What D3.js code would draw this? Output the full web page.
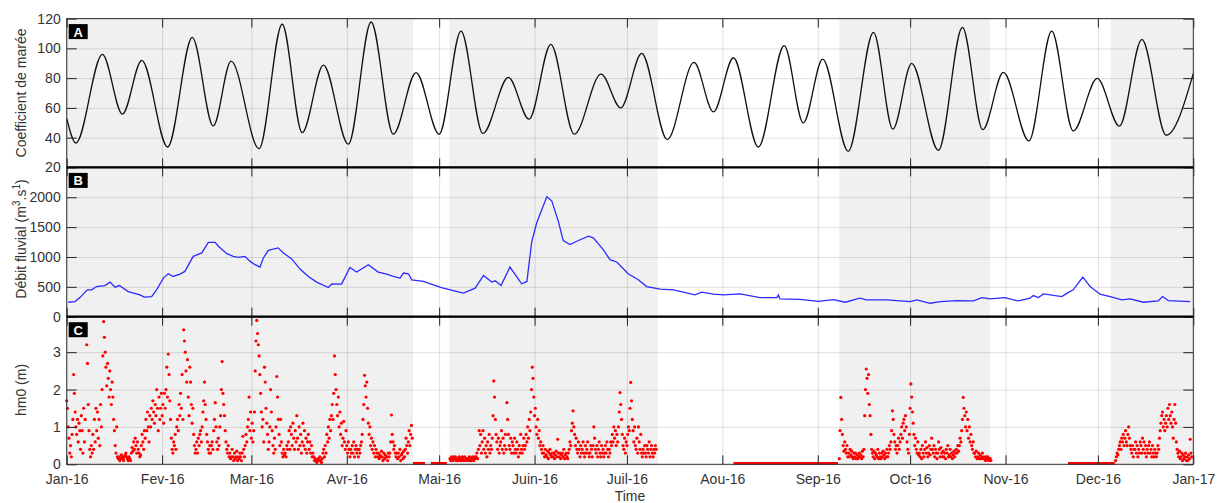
<!DOCTYPE html>
<html lang="fr">
<head>
<meta charset="UTF-8">
<title>Marée, débit fluvial et houle - 2016</title>
<script src="https://cdn.jsdelivr.net/npm/d3@7"></script>
<style>
body{margin:0;background:#fff;}
text{font-family:"Liberation Sans",Arial,Helvetica,sans-serif;}
</style>
</head>
<body>
<script>
// ---- data (days counted from 1 Jan 2016) ----
var monthLabels = ["Jan-16","Fev-16","Mar-16","Avr-16","Mai-16","Juin-16","Juil-16","Aou-16","Sep-16","Oct-16","Nov-16","Dec-16","Jan-17"];
var tideTicks = [20,40,60,80,100,120];
var flowTicks = [0,500,1000,1500,2000];
var waveTicks = [0,1,2,3];

// grey bands = periods with wave measurements
var shadedDays = [[0,112.5],[124.3,192],[251,299.9],[339.2,366]];
// periods where hm0 was logged as 0
var zeroDays = [[112.5,116.4],[118.3,123.5],[216.6,250.6],[325.3,340.5]];

// A : tidal coefficient (extrema)
var tideDays = [0,3.0,11.6,18.1,24.4,32.8,40.8,47.6,53.4,62.5,70.0,76.5,83.4,91.5,98.9,106.1,113.5,121.0,128.1,135.2,
  143.5,150.2,157.3,164.9,173.6,180.0,186.8,195.1,203.8,210.1,216.6,224.7,233.1,239.3,245.6,253.9,262.1,268.4,274.5,283.2,
  291.0,297.6,304.3,312.6,320.0,327.0,334.8,342.0,349.3,357.2,366];
var tideCoef = [53,36.4,96,55.8,91.9,33.7,107.4,47.9,91.4,32.6,116.2,43.4,88.8,35.6,117.7,42.3,83.7,42.3,111.6,42.8,
  80.5,52.4,102.7,42.3,82.7,60,96.6,38.7,90.6,57.3,93.7,33.7,101.8,49.9,92.8,30.8,110.8,45.7,89.9,31.5,
  114.1,45.4,83.8,37.8,111.6,44.5,79.8,47.7,106.1,41.6,83];

// B : river discharge m3/s
var flowDays = [0.5,2.7,4.3,6.7,8.1,9.7,12.4,14.1,15.7,17.1,20.0,23.8,25.2,27.6,29.2,31.4,33.0,34.6,36.8,38.4,
  41.1,43.9,46.0,48.2,49.3,52.0,54.1,55.8,57.9,59.6,61.2,62.8,63.9,65.5,68.7,70.4,73.1,75.8,78.5,81.2,
  85.0,86.1,89.3,92.0,94.2,98.0,101.2,104.0,106.1,108.3,109.4,111.0,112.1,115.9,119.1,121.8,125.6,128.9,132.7,135.4,
  138.1,139.2,141.1,144.0,147.8,149.5,151.1,152.7,156.0,157.6,159.7,161.3,163.5,165.7,169.5,171.1,174.3,176.5,178.7,182.5,
  185.7,188.4,192.8,197.1,200.3,204.1,206.3,210.1,213.3,218.8,225.2,230.7,231.2,231.7,238.2,244.2,249.1,252.9,257.7,259.9,
  266.4,274.0,276.2,280.5,283.8,289.2,294.6,297.3,300.0,304.8,309.2,313.0,314.0,315.7,317.3,323.3,325.0,327.0,330.1,332.5,
  335.7,339.0,342.8,345.5,349.8,354.6,356.0,357.9,365.0];
var flowRate = [242,253,320,450,450,505,522,579,495,522,421,365,327,337,450,647,719,674,714,758,
  1010,1068,1246,1246,1179,1056,1010,994,1010,926,871,832,983,1111,1152,1068,967,798,674,579,
  488,551,546,825,748,871,748,714,674,647,731,719,618,590,534,488,438,394,478,690,
  579,601,522,832,551,590,1263,1573,2011,1937,1600,1275,1207,1263,1347,1320,1123,955,916,714,
  618,505,461,450,411,365,411,377,365,382,320,320,365,298,290,258,286,242,310,281,
  281,253,281,225,253,270,264,320,298,320,264,310,354,320,382,337,394,450,663,505,
  377,337,281,298,242,264,337,270,253];

// C : significant wave height hm0 (m), one reading every 6 h
var hm0Step = 0.25;
var hm0Start = [0,124.5,251,340.75];
var hm0JanApr = [
  1.7,1.5,1.0,0.7, 0.3,0.5,0.2,0.8, 1.2,2.4,1.9,1.4, 1.0,0.8,1.2,0.6, 1.1,0.9,0.4,1.3, 0.9,0.3,1.5,0.6, 1.2,3.65,3.2,2.7, 1.6,0.9,0.4,0.2,
  0.5,0.3,0.8,0.4, 1.2,0.6,1.5,0.9, 1.4,0.7,1.2,0.5, 1.6,1.0,2.0,2.9, 3.82,3.4,3.0,2.6, 2.1,2.7,2.3,1.8, 2.5,2.0,1.6,2.2, 1.8,1.2,0.9,0.5,
  0.3,1.0,0.2,0.15, 0.2,0.1,0.15,0.25, 0.2,0.15,0.1,0.2, 0.25,0.3,0.2,0.15, 0.1,0.2,0.15,0.1, 0.3,0.45,0.35,0.6, 0.4,0.7,0.5,0.3, 0.6,0.4,0.3,0.2,
  0.25,0.5,0.8,0.6, 0.4,0.9,0.7,1.2, 0.9,1.4,1.0,0.6, 1.3,1.0,1.5,1.2, 1.7,1.4,1.1,1.6, 1.3,2.0,1.5,0.9, 1.8,1.2,1.5,1.9, 1.3,1.6,1.1,1.9,
  1.5,2.0,2.6,1.8, 2.95,2.4,1.7,1.2, 0.7,0.4,0.3,0.6, 0.5,0.8,0.4,1.0, 1.2,0.9,1.6,1.3, 1.9,1.5,2.4,1.2, 3.6,3.3,3.0,2.5, 2.2,2.8,1.8,1.3,
  2.6,2.2,1.6,1.1, 1.5,0.8,0.5,0.3, 0.4,0.6,0.3,0.7, 0.5,0.8,0.9,0.6, 1.0,1.4,1.7,2.2, 1.6,1.2,0.8,0.6, 0.4,0.3,0.5,0.3, 0.5,0.6,0.4,0.9,
  1.2,1.65,1.0,0.6, 0.4,0.7,0.5,1.0, 1.3,2.0,2.75,1.9, 1.6,1.3,0.9,0.6, 0.4,0.3,0.5,0.2, 0.3,0.15,0.2,0.4, 0.2,0.1,0.3,0.15, 0.2,0.35,0.1,0.2,
  0.15,0.3,0.2,0.1, 0.3,0.75,0.4,0.2, 0.5,0.8,0.6,1.0, 1.2,1.8,0.9,1.4, 0.7,1.1,0.6,0.9, 1.4,2.5,3.3,3.85, 3.5,3.2,2.9,2.4, 1.9,1.4,1.0,1.2,
  0.6,2.6,2.2,1.5, 1.1,0.8,0.4,0.6, 1.0,2.0,1.4,0.9, 0.5,0.3,0.7,0.4, 1.0,2.35,1.8,1.2, 0.8,0.5,1.2,0.6, 0.3,0.2,0.4,0.25, 0.3,0.2,0.5,0.4,
  0.6,0.9,0.4,1.0, 0.8,0.5,1.1,0.7, 0.4,0.9,0.6,1.3, 0.7,0.4,1.0,0.5, 0.8,0.3,0.6,1.1, 0.5,0.9,0.4,0.7, 0.3,0.6,0.8,0.4, 0.6,0.3,0.5,0.2,
  0.3,0.2,0.1,0.15, 0.1,0.05,0.1,0.15, 0.1,0.2,0.1,0.05, 0.15,0.3,0.4,0.2, 0.5,0.3,0.8,0.6, 1.0,0.7,1.2,0.9, 1.3,1.6,1.2,1.9, 2.9,2.4,2.0,1.6,
  1.3,1.8,1.0,1.4, 0.8,1.1,0.5,0.7, 1.15,0.6,0.4,0.9, 0.5,0.3,0.6,0.4, 0.2,0.4,0.3,0.5, 0.3,0.6,0.2,0.4, 0.5,0.3,0.4,0.2, 0.4,0.3,0.5,0.6,
  0.8,1.2,1.6,2.38, 2.1,1.8,2.2,1.5, 1.1,0.8,1.0,0.5, 0.7,0.4,0.6,0.3, 0.5,0.2,0.4,0.3, 0.2,0.3,0.15,0.25, 0.2,0.35,0.2,0.1, 0.3,0.15,0.25,0.2,
  0.2,0.1,0.3,0.2, 0.3,0.6,1.32,0.8, 0.6,0.4,0.5,0.3, 0.2,0.3,0.15,0.3, 0.2,0.4,0.1,0.25, 0.3,0.15,0.35,0.2, 0.4,0.7,0.5,0.3, 0.6,0.9,0.5,0.8,
  1.04,0.7];
var hm0MayJul = [
  0.15,0.1,
  0.2,0.15,0.1,0.2, 0.15,0.2,0.1,0.15, 0.1,0.15,0.2,0.1, 0.15,0.1,0.2,0.15, 0.1,0.2,0.1,0.15, 0.15,0.1,0.15,0.2, 0.1,0.15,0.1,0.2, 0.15,0.1,0.2,0.15,
  0.2,0.3,0.15,0.4, 0.9,0.5,0.8,0.3, 0.6,0.9,0.4,0.7, 0.3,0.5,0.2,0.6, 0.4,0.8,0.3,0.5, 0.4,0.7,1.3,2.23, 1.8,1.2,0.8,0.6, 0.4,0.7,0.3,0.5,
  0.6,0.9,0.4,0.7, 0.3,0.5,0.8,0.4, 1.65,1.2,0.8,0.5, 0.4,0.7,0.3,0.6, 0.5,0.3,0.7,0.4, 0.3,0.6,0.4,0.2, 0.5,0.3,0.8,0.4, 0.3,0.5,0.7,0.4,
  0.5,0.8,0.6,1.0, 0.7,1.2,0.9,1.4, 2.0,2.6,2.3,1.8, 1.3,1.5,1.0,0.8, 1.2,0.7,0.9,0.5, 0.6,0.4,0.3,0.5, 0.3,0.2,0.4,0.25, 0.2,0.35,0.15,0.3,
  0.4,0.25,0.2,0.3, 0.2,0.3,0.15,0.25, 0.35,0.2,0.67,0.3, 0.2,0.3,0.15,0.25, 0.3,0.2,0.4,0.15, 0.25,0.3,0.2,0.15, 0.3,0.4,0.6,0.5, 0.9,1.1,1.43,1.0,
  0.8,0.5,0.7,0.4, 0.3,0.6,0.4,0.2, 0.5,0.3,0.4,0.6, 0.3,0.2,0.5,0.3, 0.4,0.6,0.3,0.2, 0.3,0.5,0.4,0.2, 0.5,1.0,0.7,0.4, 0.3,0.5,0.2,0.4,
  0.6,0.3,0.2,0.5, 0.3,0.4,0.2,0.3, 0.5,0.3,0.6,0.4, 0.2,0.4,0.3,0.6, 0.5,0.8,0.6,1.0, 0.7,0.9,0.5,0.8, 0.6,1.0,1.4,1.92, 1.6,1.2,0.8,0.5,
  0.4,0.7,0.3,0.6, 0.5,0.8,1.0,0.9, 1.5,2.19,1.7,1.2, 0.9,0.6,1.0,0.5, 0.4,0.7,0.3,1.0, 0.6,0.4,0.8,0.3, 0.2,0.4,0.3,0.5, 0.3,0.2,0.5,0.4,
  0.3,0.6,0.2,0.4, 0.5,0.3,0.2,0.4, 0.3,0.5,0.4];
var hm0SepOct = [
  0.15,0.9,1.79,1.2, 0.8,0.5,0.35,0.6, 0.4,0.3,0.5,0.2, 0.3,0.2,0.4,0.25, 0.35,0.2,0.15,0.3, 0.2,0.3,0.15,0.25, 0.15,0.2,0.3,0.2, 0.25,0.15,0.35,0.2,
  0.4,1.3,2.0,2.55, 2.3,1.9,2.4,1.6, 1.3,0.8,0.4,0.3, 0.2,0.35,0.15,0.3, 0.25,0.2,0.4,0.15, 0.3,0.2,0.15,0.3, 0.2,0.35,0.25,0.15, 0.3,0.2,0.4,0.2,
  0.3,0.5,0.4,0.6, 0.9,1.43,1.2,0.8, 0.6,0.4,0.5,0.3, 0.5,0.7,0.4,0.6, 0.8,1.0,0.7,1.1, 1.2,0.9,1.3,1.0, 0.6,0.4,0.3,0.8, 1.5,2.15,1.8,1.4,
  1.1,0.8,0.5,0.7, 0.4,0.3,0.6,0.25, 0.3,0.2,0.4,0.15, 0.5,0.3,0.2,0.4, 0.6,0.3,0.45,0.2, 0.3,0.5,0.25,0.4, 0.7,0.4,0.3,0.5, 0.2,0.4,0.3,0.15,
  0.3,0.6,0.4,0.2, 0.45,0.3,0.2,0.35, 0.2,0.3,0.15,0.4, 0.3,0.5,0.2,0.25, 0.4,0.2,0.3,0.15, 0.25,0.35,0.2,0.3, 0.4,0.3,0.5,0.35, 0.5,0.7,0.6,0.9,
  1.2,1.79,1.5,1.3, 1.0,1.4,0.9,1.2, 0.7,1.0,0.6,0.8, 0.5,0.4,0.6,0.3, 0.3,0.2,0.35,0.15, 0.2,0.3,0.15,0.25, 0.15,0.2,0.3,0.15, 0.2,0.15,0.1,0.2,
  0.15,0.2,0.1,0.15, 0.15,0.1];
var hm0Dec = [
  0.1,
  0.2,0.3,0.25,0.4, 0.5,0.6,0.4,0.7, 0.6,0.8,0.5,0.7, 0.9,0.6,0.5,0.8, 1.0,0.7,0.5,0.4, 0.3,0.5,0.2,0.4, 0.4,0.6,0.3,0.5, 0.2,0.4,0.3,0.6,
  0.5,0.3,0.7,0.4, 0.6,0.3,0.5,0.2, 0.4,0.3,0.5,0.6, 0.3,0.4,0.2,0.5, 0.3,0.2,0.4,0.3, 0.2,0.3,0.5,0.4, 0.7,0.9,1.1,1.3, 1.4,1.0,1.2,0.9,
  1.1,1.3,1.0,1.5, 1.2,1.6,1.3,1.1, 1.4,1.0,0.7,1.2, 1.6,1.1,0.6,0.4, 0.3,0.2,0.35,0.15, 0.2,0.3,0.1,0.25, 0.15,0.2,0.3,0.1, 0.2,0.1,0.25,0.15,
  0.67,0.3,0.2];
var hm0Segments = [hm0JanApr, hm0MayJul, hm0SepOct, hm0Dec];

// ---- layout ----
var W = 1231, H = 503;
var left = 66.7, right = 1193.3;
var panels = [
  {name:"A", top:18.6,  bottom:167.4, domain:[20,120],  ticks:tideTicks},
  {name:"B", top:167.4, bottom:316.7, domain:[0,2500],  ticks:flowTicks},
  {name:"C", top:316.7, bottom:464.3, domain:[0,3.95], ticks:waveTicks}
];
var textColor = "#333";

var t0 = Date.UTC(2016,0,1);
function dayToDate(d){ return new Date(t0 + d*864e5); }

var svg = d3.select("body").append("svg").attr("width",W).attr("height",H);
var x = d3.scaleUtc().domain([dayToDate(0), dayToDate(366)]).range([left,right]);
var monthDates = d3.utcMonth.range(dayToDate(0), dayToDate(367));
panels.forEach(function(p){ p.y = d3.scaleLinear().domain(p.domain).range([p.bottom,p.top]); });

// shaded bands across the three panels
svg.selectAll(".shade").data(shadedDays).enter().append("rect").attr("class","shade")
  .attr("x",function(d){return x(dayToDate(d[0]));})
  .attr("width",function(d){return x(dayToDate(d[1]))-x(dayToDate(d[0]));})
  .attr("y",panels[0].top).attr("height",panels[2].bottom-panels[0].top)
  .attr("fill","#f0f0f0");

// grids
panels.forEach(function(p){
  var gx = svg.append("g").attr("transform","translate(0,"+p.bottom+")")
    .call(d3.axisBottom(x).tickValues(monthDates).tickSize(-(p.bottom-p.top)).tickFormat(""));
  gx.select(".domain").remove();
  gx.selectAll("line").attr("stroke","#000").attr("stroke-opacity",0.12);
  var gy = svg.append("g").attr("transform","translate("+left+",0)")
    .call(d3.axisLeft(p.y).tickValues(p.ticks).tickSize(-(right-left)).tickFormat(""));
  gy.select(".domain").remove();
  gy.selectAll("line").attr("stroke","#000").attr("stroke-opacity",0.12);
});

// A : tide
var pA = panels[0];
svg.append("path")
  .datum(tideDays.map(function(d,i){return {t:dayToDate(d), v:tideCoef[i]};}))
  .attr("fill","none").attr("stroke","#111").attr("stroke-width",1.3)
  .attr("d",d3.line().curve(d3.curveMonotoneX).x(function(d){return x(d.t);}).y(function(d){return pA.y(d.v);}));

// B : discharge
var pB = panels[1];
svg.append("path")
  .datum(flowDays.map(function(d,i){return {t:dayToDate(d), v:flowRate[i]};}))
  .attr("fill","none").attr("stroke","#2b2bff").attr("stroke-width",1.3)
  .attr("d",d3.line().x(function(d){return x(d.t);}).y(function(d){return pB.y(d.v);}));

// C : hm0
var pC = panels[2];
var hm0Points = [];
hm0Segments.forEach(function(seg,k){
  seg.forEach(function(v,j){ hm0Points.push({t:dayToDate(hm0Start[k]+j*hm0Step), v:v}); });
});
svg.selectAll(".zero").data(zeroDays).enter().append("line").attr("class","zero")
  .attr("x1",function(d){return x(dayToDate(d[0]));}).attr("x2",function(d){return x(dayToDate(d[1]));})
  .attr("y1",pC.y(0)-1).attr("y2",pC.y(0)-1)
  .attr("stroke","#ff0000").attr("stroke-width",2.8);
svg.selectAll(".hm0").data(hm0Points).enter().append("circle").attr("class","hm0")
  .attr("cx",function(d){return x(d.t);}).attr("cy",function(d){return pC.y(d.v);})
  .attr("r",1.6).attr("fill","#ff0000");

// axes: inward ticks on all four sides
panels.forEach(function(p,i){
  var ax = svg.append("g").attr("transform","translate("+left+",0)")
    .call(d3.axisLeft(p.y).tickValues(p.ticks).tickSize(-10).tickPadding(6).tickFormat(d3.format("d")));
  ax.select(".domain").remove();
  ax.selectAll("line").attr("stroke","#222");
  ax.selectAll("text").attr("fill",textColor).style("font-size","14px");

  var ar = svg.append("g").attr("transform","translate("+right+",0)")
    .call(d3.axisRight(p.y).tickValues(p.ticks).tickSize(-10).tickFormat(""));
  ar.select(".domain").remove();
  ar.selectAll("line").attr("stroke","#222");

  var at = svg.append("g").attr("transform","translate(0,"+p.top+")")
    .call(d3.axisTop(x).tickValues(monthDates).tickSize(-9).tickFormat(""));
  at.select(".domain").remove();
  at.selectAll("line").attr("stroke","#222");

  var ab = svg.append("g").attr("transform","translate(0,"+p.bottom+")")
    .call(d3.axisBottom(x).tickValues(monthDates).tickSize(-9).tickPadding(10)
      .tickFormat(i===2 ? function(d,k){return monthLabels[k];} : ""));
  ab.select(".domain").remove();
  ab.selectAll("line").attr("stroke","#222");
  ab.selectAll("text").attr("fill",textColor).style("font-size","14px");

  // panel frame
  svg.append("rect").attr("x",left).attr("y",p.top).attr("width",right-left).attr("height",p.bottom-p.top)
    .attr("fill","none").attr("stroke","#333").attr("stroke-width",1);

  // letter tag
  svg.append("rect").attr("x",left+2).attr("y",p.top+5.5).attr("width",19).attr("height",15).attr("fill","#000");
  svg.append("text").attr("x",left+11.5).attr("y",p.top+18).attr("text-anchor","middle")
    .attr("fill","#fff").style("font-size","13px").style("font-weight","bold").text(p.name);
});

// thick separators between panels
[panels[0].bottom, panels[1].bottom].forEach(function(yy){
  svg.append("line").attr("x1",left).attr("x2",right).attr("y1",yy).attr("y2",yy)
    .attr("stroke","#000").attr("stroke-width",2.2);
});

// axis titles
svg.append("text").attr("transform","translate(26,93) rotate(-90)").attr("text-anchor","middle")
  .attr("fill",textColor).style("font-size","14px").text("Coefficient de marée");
var tB = svg.append("text").attr("transform","translate(26,239) rotate(-90)").attr("text-anchor","middle")
  .attr("fill",textColor).style("font-size","14px");
tB.append("tspan").text("Débit fluvial (m");
tB.append("tspan").attr("dy",-6).style("font-size","10px").text("3");
tB.append("tspan").attr("dy",6).text(".s");
tB.append("tspan").attr("dy",-6).style("font-size","10px").text("1");
tB.append("tspan").attr("dy",6).text(")");
svg.append("text").attr("transform","translate(26,390) rotate(-90)").attr("text-anchor","middle")
  .attr("fill",textColor).style("font-size","14px").text("hm0 (m)");
svg.append("text").attr("x",(left+right)/2).attr("y",501).attr("text-anchor","middle")
  .attr("fill",textColor).style("font-size","14px").text("Time");
</script>
</body>
</html>
